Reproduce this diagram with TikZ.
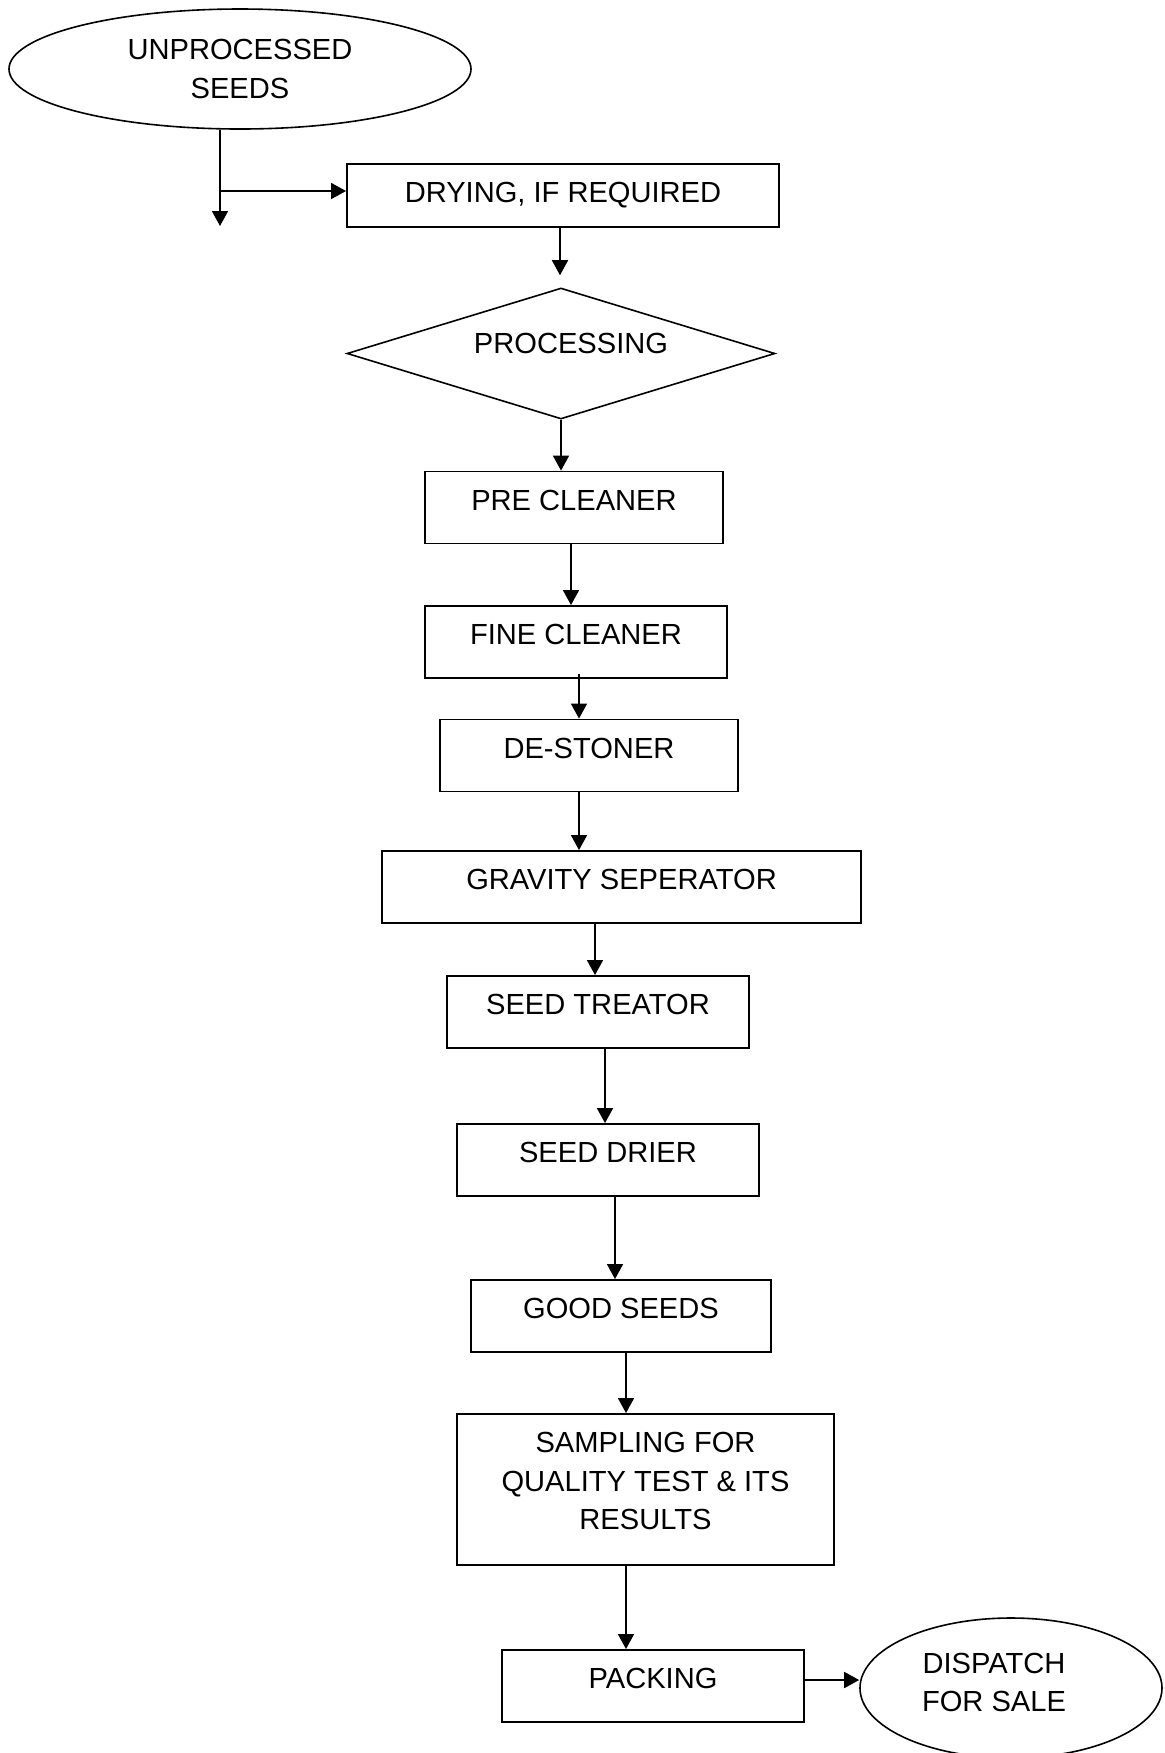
\documentclass[tikz,border=0pt]{standalone}
\usepackage{fontspec}
\setmainfont{Liberation Sans}
\usetikzlibrary{arrows.meta,shapes.geometric}
\tikzset{
  fs/.style={font=\fontsize{14.55pt}{19.3pt}\selectfont},
  box/.style={draw, rectangle, line width=0.95pt, inner xsep=0pt, inner ysep=0pt,
              text height=19.25pt, text depth=16.75pt, fs},
  ell/.style={draw, ellipse, line width=0.8pt, inner sep=0pt, fs, align=center},
  txt/.style={inner sep=0pt, fs, align=center},
  arr/.style={-{Triangle[length=7.5pt,width=8pt]}, line width=0.85pt},
}
\begin{document}
\begin{tikzpicture}[x=0.5pt,y=-0.5pt]
\useasboundingbox (0,0) rectangle (1165,1753);
% nodes
\node[ell, minimum width=231pt, minimum height=60pt] (unp) at (240,69) {UNPROCESSED\\SEEDS};
\node[box, minimum width=216pt, text depth=12.25pt] (dry) at (563,195.5) {DRYING, IF REQUIRED};
\node[draw, diamond, line width=0.8pt, inner sep=0pt, minimum width=214pt, minimum height=65.5pt] (proc) at (561,353.5) {};
\node[txt] (proct) at (571,343) {PROCESSING};
\node[box, minimum width=149pt] (pre) at (574,507.5) {PRE CLEANER};
\node[box, minimum width=151pt] (fine) at (576,642) {FINE CLEANER};
\node[box, minimum width=149pt] (de) at (589,755.5) {DE-STONER};
\node[box, minimum width=239.5pt] (grav) at (621.5,887) {GRAVITY SEPERATOR};
\node[box, minimum width=151pt] (treat) at (598,1012) {SEED TREATOR};
\node[box, minimum width=151pt] (drier) at (608,1160) {SEED DRIER};
\node[box, minimum width=150pt] (good) at (621,1316) {GOOD SEEDS};
\node[box, minimum width=188.5pt, text depth=56.25pt] (samp) at (645.5,1489.5)
  {\begin{tabular}[t]{@{}c@{}}SAMPLING FOR\\QUALITY TEST \& ITS\\RESULTS\end{tabular}};
\node[box, minimum width=151pt] (pack) at (653,1686) {PACKING};
\node[draw, ellipse, line width=0.8pt, inner sep=0pt, minimum width=151pt, minimum height=70pt] (disp) at (1011,1688) {};
\node[txt] (dispt) at (994,1682.5) {DISPATCH\\FOR SALE};
% connectors
\coordinate (br) at (220,191);
\coordinate (dn) at (220,226);
\draw[arr] (unp.south -| br) -- (dn);
\draw[arr] (br) -- (br -| dry.west);
\draw[arr, shorten >=6pt] ([xshift=-1.5pt]dry.south) -- ([xshift=-1.5pt]dry.south |- proc.north);
\draw[arr] (proc.south) -- (proc.south |- pre.north);
\draw[arr] ([xshift=-1.5pt]pre.south) -- ([xshift=-1.5pt]pre.south |- fine.north);
\draw[arr] ([xshift=1.5pt,yshift=2.5pt]fine.south) -- ([xshift=1.5pt]fine.south |- de.north);
\draw[arr] ([xshift=-5pt]de.south) -- ([xshift=-5pt]de.south |- grav.north);
\draw[arr] ([xshift=-13.25pt]grav.south) -- ([xshift=-13.25pt]grav.south |- treat.north);
\draw[arr] ([xshift=3.5pt]treat.south) -- ([xshift=3.5pt]treat.south |- drier.north);
\draw[arr] ([xshift=3.5pt]drier.south) -- ([xshift=3.5pt]drier.south |- good.north);
\draw[arr] ([xshift=2.5pt]good.south) -- ([xshift=2.5pt]good.south |- samp.north);
\draw[arr] ([xshift=-9.75pt]samp.south) -- ([xshift=-9.75pt]samp.south |- pack.north);
\draw[arr] ([yshift=3pt]pack.east) -- ([yshift=3pt]pack.east -| disp.west);
\end{tikzpicture}
\end{document}
